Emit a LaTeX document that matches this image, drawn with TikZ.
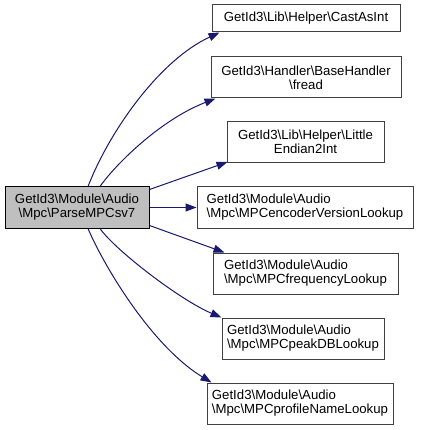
\documentclass[tikz,border=0pt]{standalone}
\usepackage{fontspec}
\setmainfont{Liberation Sans}
\usetikzlibrary{arrows.meta}
\definecolor{edgeblue}{HTML}{191970}
\definecolor{boxline}{HTML}{404040}
\definecolor{mainfill}{HTML}{BFBFBF}
\begin{document}
\begin{tikzpicture}[x=1pt,y=-1pt,
  fn/.style={draw=boxline,line width=1pt,fill=white,inner sep=0pt,
    font=\fontsize{13.2}{14}\selectfont,minimum height=41pt},
  mainbox/.style={fn,draw=black,fill=mainfill},
  edge/.style={draw=edgeblue,line width=1pt,-{Triangle[length=11pt,width=8pt]}}]
\useasboundingbox (0,0) rectangle (420,430);
\node[mainbox,minimum width=144pt,align=center] (main) at (77,207.5) {GetId3\textbackslash Module\textbackslash Audio\\\textbackslash Mpc\textbackslash ParseMPCsv7};
\node[fn,minimum width=188pt,minimum height=27pt] (b1) at (306,18.5) {GetId3\textbackslash Lib\textbackslash Helper\textbackslash CastAsInt};
\node[fn,minimum width=190pt,align=center] (b2) at (306,77.5) {GetId3\textbackslash Handler\textbackslash BaseHandler\\\textbackslash fread};
\node[fn,minimum width=157pt,align=center] (b3) at (305.5,142) {GetId3\textbackslash Lib\textbackslash Helper\textbackslash Little\\Endian2Int};
\node[fn,minimum width=216pt,align=left] (b4) at (305,207.5) {GetId3\textbackslash Module\textbackslash Audio\\\textbackslash Mpc\textbackslash MPCencoderVersionLookup};
\node[fn,minimum width=185pt,align=left] (b5) at (305.5,273.5) {GetId3\textbackslash Module\textbackslash Audio\\\textbackslash Mpc\textbackslash MPCfrequencyLookup};
\node[fn,minimum width=162pt,align=left] (b6) at (303,338.5) {GetId3\textbackslash Module\textbackslash Audio\\\textbackslash Mpc\textbackslash MPCpeakDBLookup};
\node[fn,minimum width=186pt,align=left] (b7) at (300,403.5) {GetId3\textbackslash Module\textbackslash Audio\\\textbackslash Mpc\textbackslash MPCprofileNameLookup};
\draw[edge] ([xshift=11pt]main.north) .. controls (110,130) and (160,60) .. ([xshift=8pt]b1.south west);
\draw[edge] ([xshift=23pt]main.north) .. controls (115,165) and (160,120) .. ([xshift=5pt]b2.south west);
\draw[edge] ([yshift=-3pt]main.north east) -- ([xshift=1pt,yshift=1pt]b3.south west);
\draw[edge] (main.east) -- (b4.west);
\draw[edge] ([yshift=3pt]main.south east) -- ([xshift=12pt]b5.north west);
\draw[edge] ([xshift=23pt]main.south) .. controls (115,250) and (180,300) .. ([xshift=0pt]b6.north west);
\draw[edge] ([xshift=11pt]main.south) .. controls (102,262) and (150,345) .. ([xshift=5pt]b7.north west);
\end{tikzpicture}
\end{document}
